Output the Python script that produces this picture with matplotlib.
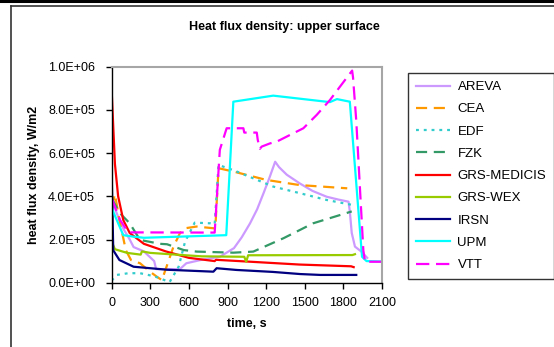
import matplotlib
matplotlib.use("Agg")
import matplotlib.pyplot as plt
from matplotlib.lines import Line2D
from matplotlib.ticker import FuncFormatter, FixedLocator

plt.rcParams['font.family'] = ['Liberation Sans', 'DejaVu Sans']

# ---- data: time (s) and heat flux density (W/m2) per code ----
areva_t = [0, 40, 90, 140, 170, 250, 330, 345, 530, 580, 690, 840, 950, 1010, 1075,
           1130, 1180, 1225, 1270, 1300, 1360, 1460, 1560, 1670, 1760, 1840, 1850,
           1865, 1890, 1940, 1985]
areva_q = [3.85e5, 3.2e5, 2.5e5, 2.0e5, 1.65e5, 1.45e5, 1.0e5, 0.63e5, 0.63e5, 0.9e5,
           1.05e5, 1.2e5, 1.6e5, 2.1e5, 2.75e5, 3.4e5, 4.15e5, 4.85e5, 5.6e5, 5.35e5,
           5.0e5, 4.6e5, 4.25e5, 3.98e5, 3.85e5, 3.75e5, 3.3e5, 2.3e5, 1.67e5, 1.44e5,
           1.15e5]

cea_t = [0, 25, 60, 110, 150, 220, 300, 350, 390, 480, 530, 570, 660, 790, 805, 830,
         950, 1200, 1460, 1830]
cea_q = [3.5e5, 4.1e5, 2.9e5, 1.5e5, 1.05e5, 0.9e5, 0.5e5, 0.28e5, 0.12e5, 1.67e5,
         2.29e5, 2.52e5, 2.6e5, 2.52e5, 2.52e5, 5.3e5, 5.14e5, 4.76e5, 4.52e5, 4.37e5]

edf_t = [0, 40, 130, 220, 330, 450, 520, 570, 645, 765, 800, 830, 950, 1255, 1465,
         1670, 1870]
edf_q = [0.1e5, 0.36e5, 0.44e5, 0.44e5, 0.3e5, 0.03e5, 0.74e5, 1.9e5, 2.78e5, 2.75e5,
         2.7e5, 5.45e5, 5.2e5, 4.45e5, 4.14e5, 3.83e5, 3.6e5]

fzk_t = [0, 65, 140, 220, 375, 430, 560, 660, 945, 1100, 1335, 1565, 1865]
fzk_q = [3.9e5, 3.21e5, 2.75e5, 1.98e5, 1.8e5, 1.78e5, 1.51e5, 1.44e5, 1.39e5,
         1.44e5, 2.06e5, 2.75e5, 3.3e5]

medicis_t = [0, 10, 25, 50, 90, 140, 250, 420, 600, 800, 810, 1050, 1460, 1860, 1880]
medicis_q = [8.85e5, 7.5e5, 5.5e5, 4.0e5, 2.9e5, 2.3e5, 1.8e5, 1.45e5, 1.15e5, 1.0e5,
             1.06e5, 0.98e5, 0.84e5, 0.76e5, 0.72e5]

wex_t = [0, 25, 120, 225, 235, 300, 700, 1030, 1045, 1060, 1870, 1890]
wex_q = [1.9e5, 1.55e5, 1.38e5, 1.3e5, 1.45e5, 1.38e5, 1.22e5, 1.2e5, 0.97e5, 1.27e5,
         1.28e5, 1.32e5]

irsn_t = [0, 12, 60, 170, 430, 790, 815, 970, 1250, 1465, 1620, 1900]
irsn_q = [5.0e5, 1.5e5, 1.05e5, 0.74e5, 0.6e5, 0.51e5, 0.67e5, 0.59e5, 0.5e5, 0.4e5,
          0.36e5, 0.36e5]

upm_t = [0, 90, 170, 250, 890, 945, 1255, 1695, 1750, 1850, 1945, 1980, 2100]
upm_q = [3.45e5, 2.2e5, 2.13e5, 2.08e5, 2.2e5, 8.38e5, 8.66e5, 8.36e5, 8.5e5, 8.38e5,
         1.2e5, 1.0e5, 0.98e5]

vtt_t = [0, 65, 130, 800, 840, 893, 1023, 1030, 1127, 1135, 1152, 1165, 1230, 1282,
         1385, 1489, 1593, 1696, 1774, 1868, 1875, 1900, 1955, 1968, 2100]
vtt_q = [3.9e5, 2.9e5, 2.33e5, 2.32e5, 6.15e5, 7.15e5, 7.15e5, 6.95e5, 6.95e5, 6.6e5,
         6.2e5, 6.3e5, 6.45e5, 6.53e5, 6.84e5, 7.15e5, 7.77e5, 8.46e5, 9.08e5, 9.82e5,
         9.5e5, 7.5e5, 1.5e5, 0.97e5, 0.97e5]

x_ticks = [0, 300, 600, 900, 1200, 1500, 1800, 2100]
y_ticks = [0, 2e5, 4e5, 6e5, 8e5, 1e6]

series = [
    ("AREVA", areva_t, areva_q, "#CC99FF", None),
    ("CEA", cea_t, cea_q, "#FF9900", (5, 3)),
    ("EDF", edf_t, edf_q, "#33CCCC", (1.3, 2.2)),
    ("FZK", fzk_t, fzk_q, "#339966", (5, 3)),
    ("GRS-MEDICIS", medicis_t, medicis_q, "#FF0000", None),
    ("GRS-WEX", wex_t, wex_q, "#99CC00", None),
    ("IRSN", irsn_t, irsn_q, "#000080", None),
    ("UPM", upm_t, upm_q, "#00FFFF", None),
    ("VTT", vtt_t, vtt_q, "#FF00FF", (6, 3)),
]

W, H = 554, 347
fig = plt.figure(figsize=(W / 100, H / 100), dpi=100)
fig.patch.set_facecolor("white")

def fx(px):
    return px / W

def fy(py):
    return 1 - py / H

ax = fig.add_axes([fx(111.7), fy(282.7), fx(382) - fx(111.7), fy(66.7) - fy(282.7)])

for name, t, q, color, dash in series:
    line, = ax.plot(t, q, color=color, lw=1.6, label=name, solid_joinstyle="round")
    if dash is not None:
        line.set_dashes(dash)
        line.set_dash_capstyle("butt")

ax.set_xlim(0, 2100)
ax.set_ylim(0, 1e6)
ax.xaxis.set_major_locator(FixedLocator(x_ticks))
ax.yaxis.set_major_locator(FixedLocator(y_ticks))
ax.yaxis.set_major_formatter(FuncFormatter(lambda v, p: f"{v:.1E}"))
ax.tick_params(axis="both", direction="out", length=4, width=1, labelsize=9,
               colors="black")
ax.tick_params(axis="x", pad=6)
ax.tick_params(axis="y", pad=8)

for s in ("left", "bottom"):
    ax.spines[s].set_color("black")
    ax.spines[s].set_linewidth(1.0)
for s in ("top", "right"):
    ax.spines[s].set_color("#A6A6A6")
    ax.spines[s].set_linewidth(1.5)

ax.set_xlabel("time, s", fontsize=9, fontweight="bold", labelpad=7)
ax.set_ylabel("heat flux density, W/m2", fontsize=9, fontweight="bold", labelpad=6)

fig.text(fx(284), fy(27), "Heat flux density: upper surface", ha="center",
         va="center", fontsize=9, fontweight="bold")

leg = ax.legend(loc="upper left", bbox_to_anchor=(fx(408), fy(73)),
                bbox_transform=fig.transFigure, borderaxespad=0, fontsize=9.5,
                frameon=True, fancybox=False, handlelength=2.6,
                handletextpad=0.55, labelspacing=0.76, borderpad=0.6)
leg.get_frame().set_edgecolor("black")
leg.get_frame().set_linewidth(1.0)

# chart frame lines
fig.add_artist(Line2D([0, 1], [fy(1.3), fy(1.3)], transform=fig.transFigure,
                      color="black", lw=2.2))
fig.add_artist(Line2D([fx(11), 1], [fy(5.8), fy(5.8)], transform=fig.transFigure,
                      color="#333333", lw=1.2))
fig.add_artist(Line2D([fx(11), fx(11)], [fy(5.8), 0], transform=fig.transFigure,
                      color="#333333", lw=1.2))

fig.savefig("out.png", dpi=100)
